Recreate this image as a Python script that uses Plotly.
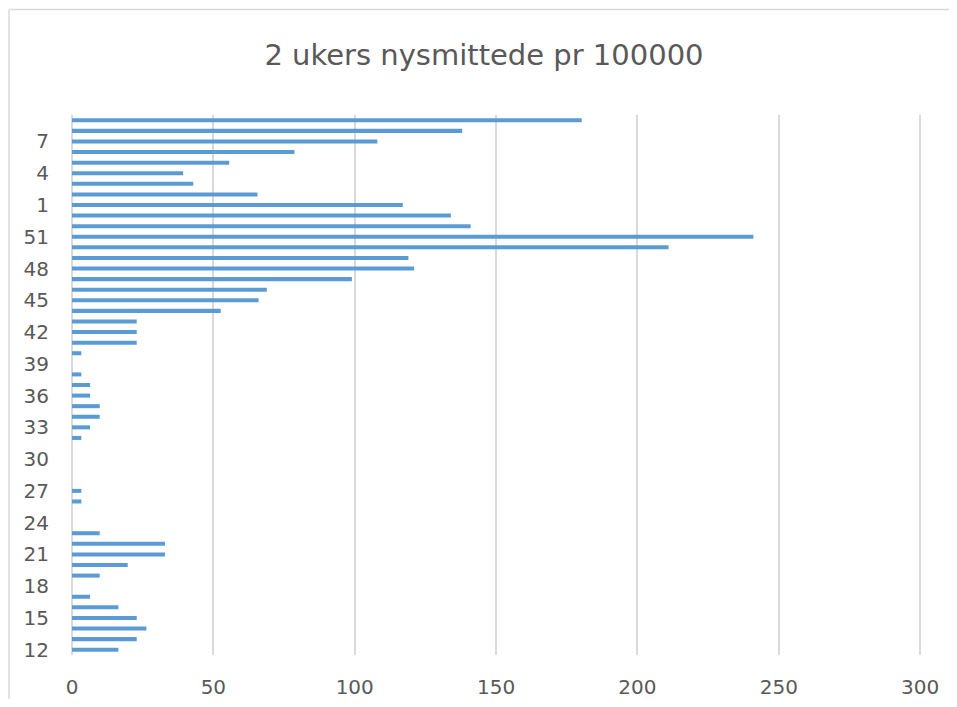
import plotly.graph_objects as go

weeks = ["12", "13", "14", "15", "16", "17", "18", "19", "20", "21", "22", "23",
         "24", "25", "26", "27", "28", "29", "30", "31", "32", "33", "34", "35",
         "36", "37", "38", "39", "40", "41", "42", "43", "44", "45", "46", "47",
         "48", "49", "50", "51", "52", "53", "1", "2", "3", "4", "5", "6", "7",
         "8", "9"]
values = [16.4, 22.9, 26.3, 22.9, 16.4, 6.4, 0, 9.8, 19.7, 32.9, 32.9, 9.8,
          0, 0, 3.3, 3.3, 0, 0, 0, 0, 3.3, 6.4, 9.8, 9.8,
          6.4, 6.4, 3.3, 0, 3.3, 22.9, 22.9, 22.9, 52.6, 66, 68.9, 99,
          121, 119, 211, 241, 141, 134, 117, 65.6, 42.9, 39.3, 55.6, 78.7, 108,
          138, 180.3]
y_tick_labels = ["12", "15", "18", "21", "24", "27", "30", "33", "36", "39",
                 "42", "45", "48", "51", "1", "4", "7"]
x_tick_values = [0, 50, 100, 150, 200, 250, 300]

title_text = "2 ukers nysmittede pr 100000"
text_color = "#595959"
grid_color = "#D9D9D9"

W, H = 941, 691
ML, MR, MT, MB = 64, 26, 107, 44
PW, PH = W - ML - MR, H - MT - MB

fig = go.Figure(go.Bar(
    x=values, y=weeks, orientation="h",
    marker=dict(color="#5B9BD5", line=dict(width=0)),
    hoverinfo="x+y",
))

bx = (1 - ML) / PW
by = 1 + (MT - 1.5) / PH

fig.update_layout(
    width=W, height=H,
    margin=dict(l=ML, r=MR, t=MT, b=MB, autoexpand=False),
    paper_bgcolor="white", plot_bgcolor="white",
    bargap=0.62,
    showlegend=False,
    font=dict(family="DejaVu Sans", color=text_color, size=20),
    title=dict(text=title_text, x=476 / W, xref="container", xanchor="center",
               y=1 - 47 / H, yref="container", yanchor="middle",
               font=dict(family="DejaVu Sans", size=29, color=text_color)),
    xaxis=dict(range=[0, 301], tickvals=x_tick_values, automargin=False,
               showgrid=True, gridcolor=grid_color, gridwidth=1.5,
               zeroline=True, zerolinecolor=grid_color, zerolinewidth=1.5,
               showline=False, ticks="", ticklabelstandoff=18,
               tickfont=dict(size=20, color=text_color), fixedrange=True),
    yaxis=dict(type="category", categoryorder="array", categoryarray=weeks,
               tickmode="array", tickvals=y_tick_labels, ticktext=y_tick_labels,
               automargin=False,
               showgrid=False, showline=False, ticks="", ticklabelstandoff=22,
               tickfont=dict(size=20, color=text_color), fixedrange=True),
    shapes=[
        dict(type="line", xref="paper", yref="paper",
             x0=bx, x1=bx, y0=-0.2, y1=by,
             line=dict(color=grid_color, width=1.5)),
        dict(type="line", xref="paper", yref="paper",
             x0=bx, x1=1.2, y0=by, y1=by,
             line=dict(color=grid_color, width=1.5)),
    ],
)

fig.write_html("out.html")
